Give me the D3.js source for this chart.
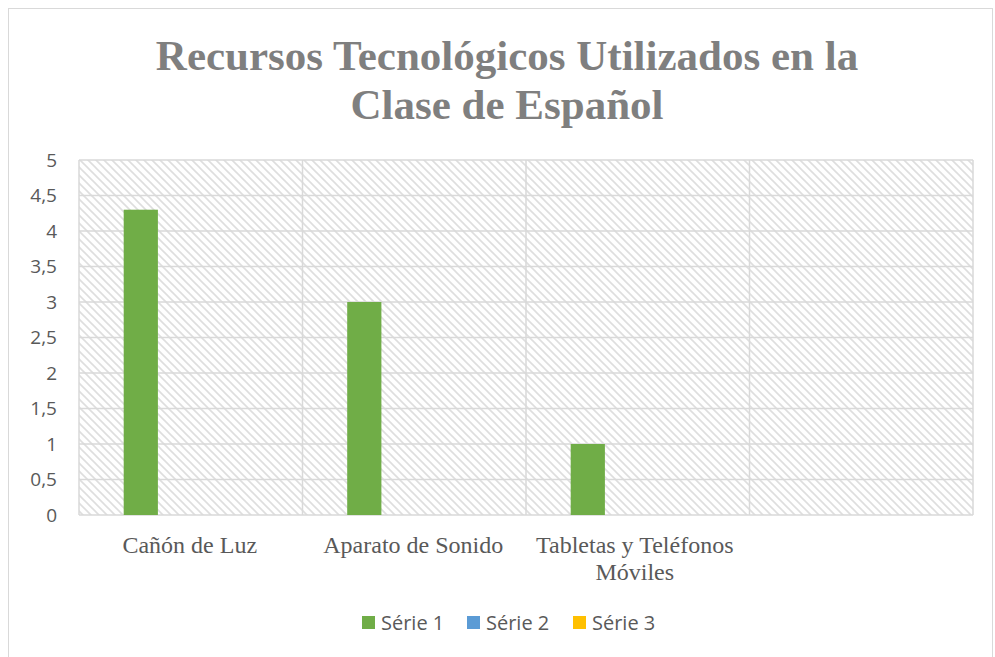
<!DOCTYPE html>
<meta charset="utf-8" />
<title>Recursos Tecnológicos</title>
<style>
  body { margin: 0; background: #fff; }
  svg { display: block; }
</style>
<svg width="995" height="657"></svg>
<script src="https://cdn.jsdelivr.net/npm/d3@7"></script>
<script>
const categories = ["Cañón de Luz", "Aparato de Sonido", "Tabletas y Teléfonos Móviles", ""];
const seriesNames = ["Série 1", "Série 2", "Série 3"];
const serie1 = [4.3, 3, 1, null];
const serie2 = [null, null, null, null];
const serie3 = [null, null, null, null];
const yTicks = [0, 0.5, 1, 1.5, 2, 2.5, 3, 3.5, 4, 4.5, 5];
const colors = ["#70ad47", "#5b9bd5", "#ffc000"];

const svg = d3.select("svg");
const plot = { left: 79, right: 973, top: 160, bottom: 515 };

// chart frame
svg.append("rect")
  .attr("x", 8.5).attr("y", 8.5)
  .attr("width", 984).attr("height", 660)
  .attr("fill", "#fff")
  .attr("stroke", "#d9d9d9");

// hatch pattern (wide downward diagonal)
const defs = svg.append("defs");
const pat = defs.append("pattern")
  .attr("id", "hatch")
  .attr("patternUnits", "userSpaceOnUse")
  .attr("width", 8).attr("height", 8);
pat.append("rect").attr("width", 8).attr("height", 8).attr("fill", "#fff");
pat.append("path")
  .attr("d", "M-2,-2 L10,10 M-2,6 L2,10 M6,-2 L10,2")
  .attr("stroke", "#dedede")
  .attr("stroke-width", 1.6);

// title
const title = svg.append("text")
  .attr("text-anchor", "middle")
  .attr("font-family", "'Liberation Serif', 'Times New Roman', serif")
  .attr("font-weight", "bold")
  .attr("font-size", 43)
  .attr("fill", "#7f7f7f");
title.append("tspan").attr("x", 507).attr("y", 70).text("Recursos Tecnológicos Utilizados en la");
title.append("tspan").attr("x", 507).attr("y", 119).text("Clase de Español");

const x0 = d3.scaleBand().domain(categories.map((d, i) => i)).range([plot.left, plot.right]).padding(0);
const bw = x0.bandwidth();
const x1 = d3.scaleBand().domain(seriesNames).range([bw * 0.2, bw * 0.2 + bw * 0.153 * 3]).padding(0);
const y = d3.scaleLinear().domain([0, 5]).range([plot.bottom, plot.top]);

// plot background
svg.append("rect")
  .attr("x", plot.left).attr("y", plot.top)
  .attr("width", plot.right - plot.left).attr("height", plot.bottom - plot.top)
  .attr("fill", "url(#hatch)");

// horizontal gridlines
svg.append("g").selectAll("line")
  .data(yTicks)
  .join("line")
  .attr("x1", plot.left).attr("x2", plot.right)
  .attr("y1", d => y(d)).attr("y2", d => y(d))
  .attr("stroke", "#d9d9d9")
  .attr("stroke-width", 1.5);

// vertical gridlines
svg.append("g").selectAll("line")
  .data(d3.range(categories.length + 1))
  .join("line")
  .attr("x1", i => plot.left + i * bw).attr("x2", i => plot.left + i * bw)
  .attr("y1", plot.top).attr("y2", plot.bottom)
  .attr("stroke", "#d9d9d9")
  .attr("stroke-width", 1.5);

// bars
const allSeries = [serie1, serie2, serie3];
allSeries.forEach((vals, s) => {
  svg.append("g").selectAll("rect")
    .data(vals.map((v, i) => ({ v, i })).filter(d => d.v != null))
    .join("rect")
    .attr("x", d => x0(d.i) + x1(seriesNames[s]))
    .attr("width", x1.bandwidth())
    .attr("y", d => y(d.v))
    .attr("height", d => y(0) - y(d.v))
    .attr("fill", colors[s]);
});

// y axis labels
const yAxis = svg.append("g")
  .attr("transform", `translate(${plot.left - 22},0)`)
  .call(d3.axisLeft(y).tickValues(yTicks).tickSize(0).tickPadding(0)
    .tickFormat(d => String(d).replace(".", ",")));
yAxis.select(".domain").remove();
yAxis.selectAll("text")
  .attr("font-family", "'Open Sans', 'Liberation Sans', sans-serif")
  .attr("font-size", 19)
  .attr("fill", "#595959");

// x axis labels
const xlab = svg.append("g");
categories.forEach((c, i) => {
  const cx = x0(i) + bw / 2;
  const t = xlab.append("text")
    .attr("text-anchor", "middle")
    .attr("font-family", "'Liberation Serif', 'Times New Roman', serif")
    .attr("font-size", 24)
    .attr("fill", "#595959");
  if (c === "Tabletas y Teléfonos Móviles") {
    t.append("tspan").attr("x", cx - 3).attr("y", 553).text("Tabletas y Teléfonos");
    t.append("tspan").attr("x", cx - 3).attr("y", 580).text("Móviles");
  } else {
    t.append("tspan").attr("x", cx - 1).attr("y", 553).text(c);
  }
});

// legend
const legendX = [362, 467, 573];
const legend = svg.append("g");
seriesNames.forEach((name, i) => {
  legend.append("rect")
    .attr("x", legendX[i]).attr("y", 616)
    .attr("width", 13).attr("height", 13)
    .attr("fill", colors[i]);
  legend.append("text")
    .attr("x", legendX[i] + 19).attr("y", 630)
    .attr("font-family", "'Open Sans', 'Liberation Sans', sans-serif")
    .attr("font-size", 20)
    .attr("fill", "#595959")
    .text(name);
});
</script>
